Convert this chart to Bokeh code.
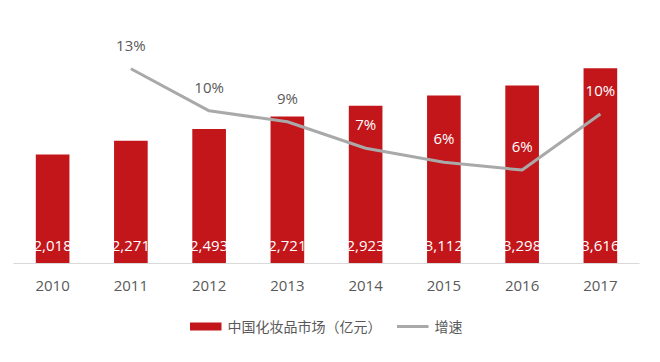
from bokeh.plotting import figure
from bokeh.models import (ColumnDataSource, FactorRange, Range1d, Legend, LegendItem)
from bokeh.layouts import column
from bokeh.core.properties import value
from bokeh.embed import file_html
from bokeh.resources import INLINE

# ---- data ----
years = ["2010", "2011", "2012", "2013", "2014", "2015", "2016", "2017"]
market = [2018, 2271, 2493, 2721, 2923, 3112, 3298, 3616]
market_labels = ["2,018", "2,271", "2,493", "2,721", "2,923", "3,112", "3,298", "3,616"]
growth_years = ["2011", "2012", "2013", "2014", "2015", "2016", "2017"]
growth = [12.5, 9.8, 9.1, 7.4, 6.5, 6.0, 9.6]
growth_labels = ["13%", "10%", "9%", "7%", "6%", "6%", "10%"]
series_names = ["中国化妆品市场（亿元）", "增速"]

# styling
RED = "#c2161b"
GREY_LINE = "#a9a9a9"
TEXT = "#595959"
growth_label_colors = [TEXT, TEXT, TEXT, "white", "white", "white", "white"]
NUM_FONT = "Open Sans"
CJK_FONT = "Noto Sans CJK SC"

p = figure(x_range=FactorRange(*years), y_range=Range1d(0, 4500),
           width=648, height=303, output_backend="svg", toolbar_location=None,
           y_axis_location=None, min_border_left=13, min_border_right=9,
           min_border_top=20, min_border_bottom=40)
p.extra_y_ranges = {"g": Range1d(0, 15.6)}

p.outline_line_color = None
p.xgrid.visible = False
p.ygrid.visible = False

bar_src = ColumnDataSource(dict(x=years, y=market, lab=market_labels))
bars = p.vbar(x="x", top="y", width=0.43, source=bar_src, fill_color=RED, line_color=None)
p.text(x="x", y=0, text="lab", source=bar_src, y_offset=-18,
       text_align="center", text_baseline="middle", text_color="white",
       text_font=value(NUM_FONT), text_font_size="15px")

g_src = ColumnDataSource(dict(x=growth_years, y=growth, lab=growth_labels, c=growth_label_colors))
line = p.line(x="x", y="y", source=g_src, y_range_name="g", line_color=GREY_LINE, line_width=3)
p.text(x="x", y="y", text="lab", source=g_src, y_range_name="g", y_offset=-24,
       text_align="center", text_baseline="middle", text_color="c",
       text_font=value(NUM_FONT), text_font_size="15px")

ax = p.xaxis[0]
ax.axis_line_color = "#d9d9d9"
ax.axis_line_width = 1
ax.major_tick_line_color = None
ax.minor_tick_line_color = None
ax.major_tick_out = 0
ax.major_label_standoff = 17
ax.major_label_text_font = NUM_FONT
ax.major_label_text_font_size = "15px"
ax.major_label_text_color = TEXT

# ---- legend strip below the chart (hidden proxy renderers supply the swatches) ----
lg = figure(x_range=Range1d(0, 1), y_range=Range1d(0, 1), width=648, height=46,
            output_backend="svg", toolbar_location=None,
            x_axis_location=None, y_axis_location=None,
            min_border_left=13, min_border_right=9, min_border_top=0, min_border_bottom=0)
lg.outline_line_color = None
lg.xgrid.visible = False
lg.ygrid.visible = False
proxy_src = ColumnDataSource(dict(x=[0], y=[0]))
proxy_bar = lg.line(x="x", y="y", source=proxy_src, line_color=RED, line_width=8,
                    line_cap="butt", visible=False)
proxy_line = lg.line(x="x", y="y", source=proxy_src, line_color=GREY_LINE, line_width=3,
                     visible=False)

legend = Legend(items=[LegendItem(label=series_names[0], renderers=[proxy_bar]),
                       LegendItem(label=series_names[1], renderers=[proxy_line])],
                orientation="horizontal", location="center",
                glyph_width=32, glyph_height=16, label_standoff=6, spacing=15,
                label_text_font=CJK_FONT, label_text_font_size="14px",
                label_text_color=TEXT, border_line_color=None,
                background_fill_alpha=0, padding=4, margin=0)
lg.add_layout(legend)

open("out.html", "w").write(file_html(column(p, lg, spacing=0), INLINE))
